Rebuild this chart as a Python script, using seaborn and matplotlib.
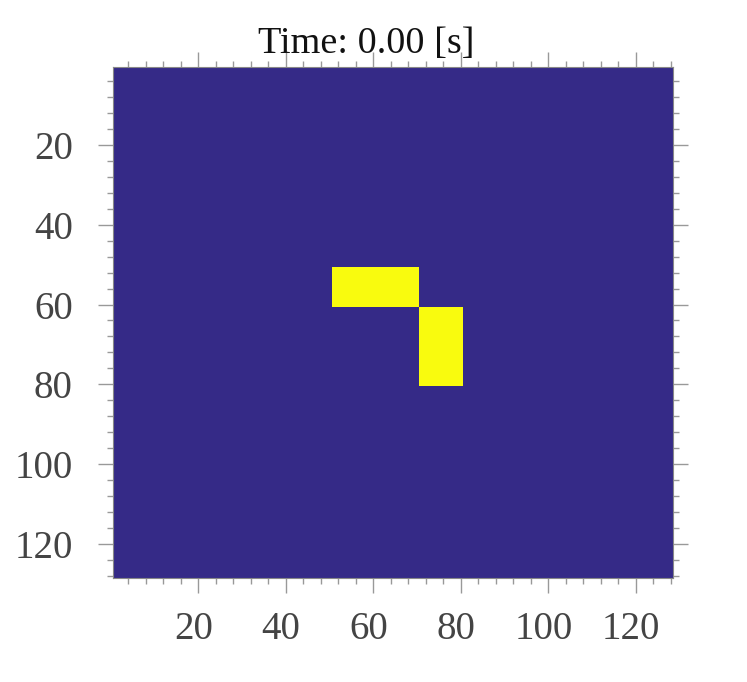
import matplotlib
matplotlib.use("Agg")
import matplotlib.pyplot as plt
import matplotlib.transforms as mtransforms
import numpy as np
import seaborn as sns
from matplotlib.colors import ListedColormap

# grid size and the "on" blocks (1-based, inclusive row/col ranges)
grid_size = 128
block_rows = [(51, 60), (61, 80)]
block_cols = [(51, 70), (71, 80)]
time_s = 0.00

major_ticks = [20, 40, 60, 80, 100, 120]
minor_step = 4

# parula end colours
cmap = ListedColormap(["#352a87", "#f9fb0e"])

grid = np.zeros((grid_size, grid_size))
for (r0, r1), (c0, c1) in zip(block_rows, block_cols):
    grid[r0 - 1:r1, c0 - 1:c1] = 1

sns.set_style("ticks")
plt.rcParams['font.family'] = ['Liberation Serif', 'DejaVu Serif']

fig = plt.figure(figsize=(7.47, 6.82), dpi=100)
ax = fig.add_axes([0.1513, 0.1525, 0.7497, 0.7493])

sns.heatmap(grid, cmap=cmap, vmin=0, vmax=1, cbar=False, ax=ax,
            xticklabels=False, yticklabels=False)

# heatmap cell i spans [i, i+1] -> value i+1 sits at i+0.5, tick for n at n-0.5
ax.set_xticks(np.array(major_ticks) - 0.5)
ax.set_xticklabels([str(t) for t in major_ticks])
ax.set_yticks(np.array(major_ticks) - 0.5)
ax.set_yticklabels([str(t) for t in major_ticks], rotation=0)
minors = np.arange(minor_step, grid_size + 1, minor_step) - 0.5
ax.set_xticks(minors, minor=True)
ax.set_yticks(minors, minor=True)

ax.tick_params(which='both', direction='out', color='#999999', width=1,
               top=True, right=True, bottom=True, left=True)
ax.tick_params(which='major', length=11, labelsize=28, labelcolor='#444444')
ax.tick_params(which='minor', length=4)
ax.tick_params(axis='x', which='major', pad=13)
ax.tick_params(axis='y', which='major', pad=18)

# x labels sit a little left of their ticks in the original
shift = mtransforms.ScaledTranslation(-5 / 100, 0, fig.dpi_scale_trans)
for lab in ax.get_xticklabels():
    lab.set_transform(lab.get_transform() + shift)

for s in ax.spines.values():
    s.set_visible(True)
    s.set_color('#888888')
    s.set_linewidth(0.8)

ax.set_title(f"Time: {time_s:.2f} [s]", fontsize=27.5, color='#111111',
             pad=10, x=0.452)

fig.savefig("out.png", dpi=100)
